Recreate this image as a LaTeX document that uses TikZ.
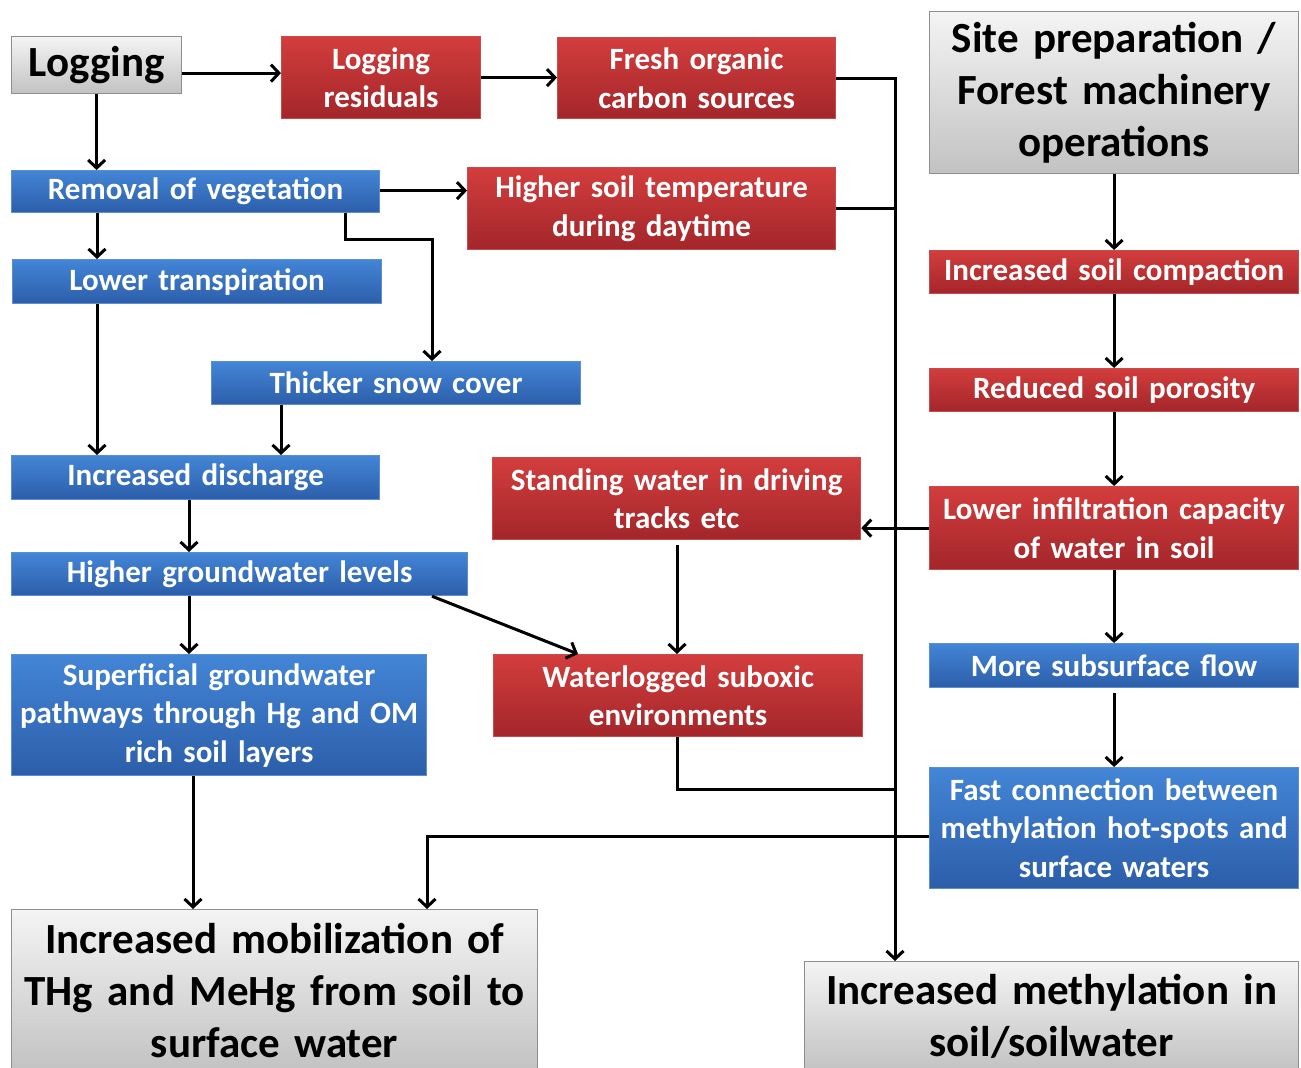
\documentclass[tikz,border=0pt]{standalone}
\usepackage{fontspec}
\setmainfont{Carlito}
\usetikzlibrary{arrows.meta}
\definecolor{rtop}{HTML}{D33D3D}
\definecolor{rbot}{HTML}{A3262A}
\definecolor{rbrd}{HTML}{C84A4A}
\definecolor{btop}{HTML}{4385D6}
\definecolor{bbot}{HTML}{2C5EA9}
\definecolor{bbrd}{HTML}{5B8FD0}
\definecolor{gtop}{HTML}{F4F4F4}
\definecolor{gbot}{HTML}{C2C2C2}
\definecolor{gbrd}{HTML}{8E8E8E}
\tikzset{
  x=1pt, y=-1pt,
  box/.style={anchor=north west, inner sep=0pt, align=center, line width=1.2pt},
  smalltxt/.style={font=\bfseries\fontsize{31}{38.5}\selectfont},
  bigtxt/.style={font=\bfseries\fontsize{43}{52}\selectfont},
  redbox/.style={box, smalltxt, text=white, draw=rbrd, top color=rtop, bottom color=rbot},
  bluebox/.style={box, smalltxt, text=white, draw=bbrd, top color=btop, bottom color=bbot},
  graybox/.style={box, bigtxt, text=black, draw=gbrd, top color=gtop, bottom color=gbot},
  arr/.style={line width=3pt, -{Straight Barb[length=8pt,width=17pt,line width=3pt]}},
  ln/.style={line width=3pt}
}
\begin{document}
\begin{tikzpicture}
\useasboundingbox (0,0) rectangle (1301,1068);
\clip (0,0) rectangle (1301,1068);
\fill[white] (0,0) rectangle (1301,1068);
% nodes
\node[graybox, text width=170pt, minimum height=57pt] (log) at (11,36) {Logging};
\node[redbox, text width=199pt, minimum height=82pt] (res) at (281,36) {Logging\\residuals};
\node[redbox, text width=278pt, minimum height=81pt] (fresh) at (557,37) {Fresh organic\\carbon sources};
\node[graybox, text width=369pt, minimum height=162pt] (site) at (929,11) {Site preparation /\\Forest machinery\\operations};
\node[bluebox, text width=368pt, minimum height=42pt] (rem) at (11,170) {Removal of vegetation};
\node[redbox, text width=368pt, minimum height=82pt] (temp) at (467,167) {Higher soil temperature\\during daytime};
\node[bluebox, text width=369pt, minimum height=44pt] (trans) at (12,259) {Lower transpiration};
\node[bluebox, text width=369pt, minimum height=43pt] (snow) at (211,361) {Thicker snow cover};
\node[redbox, text width=369pt, minimum height=43pt] (comp) at (929,250) {Increased soil compaction};
\node[redbox, text width=369pt, minimum height=43pt] (poro) at (929,368) {Reduced soil porosity};
\node[bluebox, text width=368pt, minimum height=44pt] (disch) at (11,455) {Increased discharge};
\node[redbox, text width=368pt, minimum height=82pt] (stand) at (492,457) {Standing water in driving\\tracks etc};
\node[redbox, text width=369pt, minimum height=83pt] (infil) at (929,486) {Lower infiltration capacity\\of water in soil};
\node[bluebox, text width=456pt, minimum height=43pt] (gw) at (11,552) {Higher groundwater levels};
\node[bluebox, text width=415pt, minimum height=121pt] (sup) at (11,654) {Superficial groundwater\\pathways through Hg and OM\\rich soil layers};
\node[redbox, text width=369pt, minimum height=82pt] (water) at (493,654) {Waterlogged suboxic\\environments};
\node[bluebox, text width=369pt, minimum height=44pt] (sub) at (929,643) {More subsurface flow};
\node[bluebox, text width=369pt, minimum height=121pt] (fast) at (929,767) {Fast connection between\\methylation hot-spots and\\surface waters};
\node[graybox, text width=526pt, minimum height=162pt] (mob) at (11,909) {Increased mobilization of\\THg and MeHg from soil to\\surface water};
\node[graybox, text width=494pt, minimum height=110pt] (meth) at (804,961) {Increased methylation in\\soil/soilwater};
% junctions
\coordinate (busx) at ([xshift=91pt]meth.north west);
\coordinate (j1) at (895,789);
% connectors
\draw[arr] ([yshift=-8pt]log.east) -- ([yshift=-8pt]log.east -| res.west);
\draw[arr] (res.east) -- (res.east -| fresh.west);
\draw[arr] (log.south) -- (log.south |- rem.north);
\draw[arr] ([yshift=1pt]rem.east) -- ([yshift=1pt]rem.east -| temp.west);
\draw[arr] ([xshift=86pt]rem.south west) -- ([xshift=85pt]trans.north west);
\draw[arr] ([xshift=334pt]rem.south west) -- ++(0,26) -| ([xshift=221pt]snow.north west);
\draw[arr] ([xshift=85pt]trans.south west) -- ([xshift=86pt]disch.north west);
\draw[arr] ([xshift=70pt]snow.south west) -- ([xshift=270pt]disch.north west);
\draw[arr] ([xshift=178pt]disch.south west) -- ([xshift=178pt]gw.north west);
\draw[arr] ([xshift=178pt]gw.south west) -- ([xshift=178pt]sup.north west);
\draw[arr] ([xshift=421pt]gw.south west) -- ([xshift=85pt]water.north west);
\draw[arr] ([xshift=185pt,yshift=-5pt]stand.south west) -- ([xshift=184pt]water.north west);
\draw[arr] (fresh.east) -| (busx);
\draw[ln] (temp.east) -- (temp.east -| busx);
\draw[ln] ([xshift=184pt]water.south west) |- (j1);
\draw[arr] (infil.west) -- (infil.west -| stand.east);
\draw[arr] ([yshift=-8pt]fast.west) -| ([xshift=416pt]mob.north west);
\draw[arr] ([xshift=182pt]sup.south west) -- ([xshift=182pt]mob.north west);
\draw[arr] (site.south) -- (comp.north);
\draw[arr] (comp.south) -- (poro.north);
\draw[arr] (poro.south) -- (infil.north);
\draw[arr] (infil.south) -- (sub.north);
\draw[arr] ([yshift=-5pt]sub.south) -- (fast.north);
\end{tikzpicture}
\end{document}
